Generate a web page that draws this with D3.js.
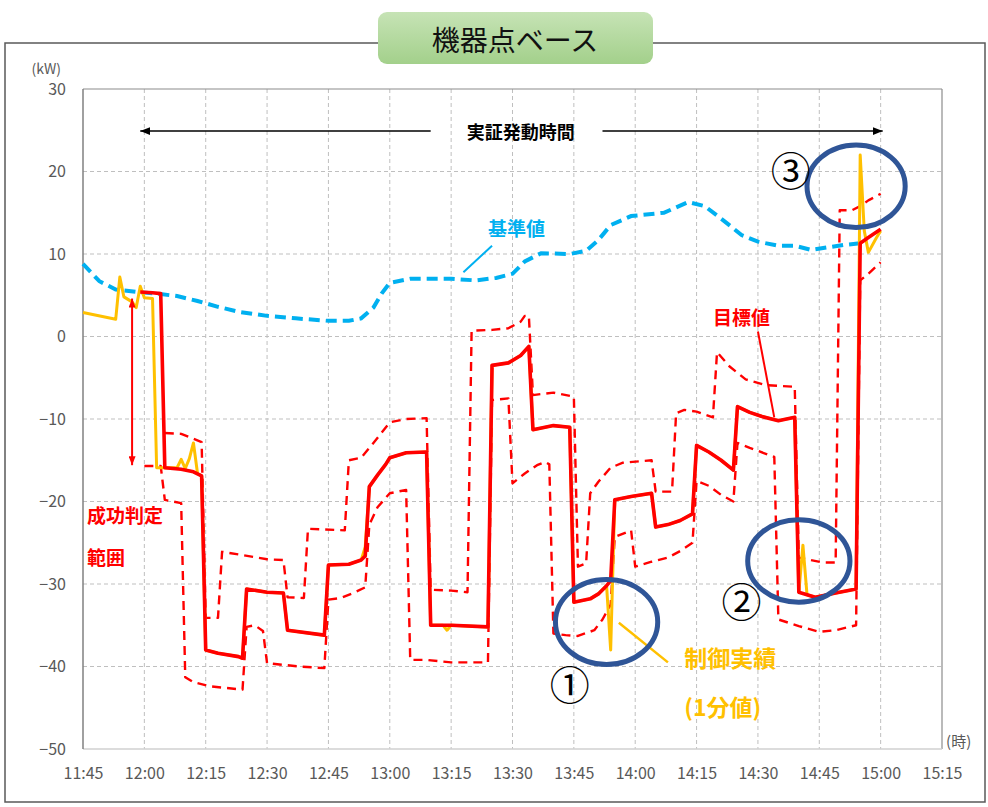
<!DOCTYPE html>
<html>
<head>
<meta charset="utf-8">
<script src="https://cdn.jsdelivr.net/npm/d3@7"></script>
<style>
  body { margin: 0; background: #fff; }
  svg { display: block; font-family: "Noto Sans CJK JP", "Noto Sans", sans-serif; }
</style>
</head>
<body>
<svg id="chart" width="988" height="807"></svg>
<script>
// ---- data -------------------------------------------------------------
const timeTicks = ["11:45","12:00","12:15","12:30","12:45","13:00","13:15",
                   "13:30","13:45","14:00","14:15","14:30","14:45","15:00","15:15"];
const valueTicks = [30, 20, 10, 0, -10, -20, -30, -40, -50];

// 基準値 (baseline, kW)
const baseline = [
  ["11:45", 8.8], ["11:49", 6.7], ["11:53", 5.7], ["11:58", 5.4], ["12:03", 5.2],
  ["12:08", 4.9], ["12:13", 4.3], ["12:18", 3.6], ["12:23", 3.0], ["12:30", 2.5],
  ["12:37", 2.2], ["12:45", 1.9], ["12:50", 1.9], ["12:53", 2.2], ["12:56", 3.5],
  ["12:58", 5.2], ["13:00", 6.5], ["13:05", 7.0], ["13:15", 7.0], ["13:21", 6.8],
  ["13:26", 7.1], ["13:30", 7.6], ["13:33", 9.1], ["13:37", 10.1], ["13:44", 10.0],
  ["13:48", 10.4], ["13:51", 11.7], ["13:54", 13.5], ["13:59", 14.6], ["14:07", 15.0],
  ["14:13", 16.3], ["14:17", 15.8], ["14:22", 13.9], ["14:26", 12.3], ["14:30", 11.5],
  ["14:35", 11.0], ["14:39", 11.0], ["14:43", 10.5], ["14:47", 10.8], ["14:51", 11.1],
  ["14:55", 11.3]
];

// 目標値 (target, kW)
const target = [
  ["11:59", 5.4], ["12:02", 5.3], ["12:04", 5.2], ["12:05", -15.9], ["12:09", -16.1],
  ["12:12", -16.4], ["12:14", -16.9], ["12:15", -38.0], ["12:18", -38.4], ["12:23", -38.8],
  ["12:24", -39.0], ["12:25", -30.6], ["12:30", -31.0], ["12:34", -31.1], ["12:35", -35.6],
  ["12:44", -36.2], ["12:45", -27.7], ["12:50", -27.6], ["12:53", -27.1], ["12:54", -26.6],
  ["12:55", -18.2], ["12:57", -16.8], ["12:59", -15.5], ["13:00", -14.7], ["13:04", -14.1],
  ["13:09", -14.0], ["13:10", -35.0], ["13:15", -35.0], ["13:24", -35.2], ["13:25", -3.5],
  ["13:29", -3.2], ["13:32", -2.3], ["13:34", -1.2], ["13:35", -11.3], ["13:40", -10.8],
  ["13:44", -11.0], ["13:45", -32.2], ["13:49", -31.8], ["13:51", -31.2], ["13:53", -30.2],
  ["13:54", -29.6], ["13:55", -19.8], ["13:59", -19.4], ["14:04", -19.0], ["14:05", -23.1],
  ["14:08", -22.8], ["14:11", -22.3], ["14:14", -21.5], ["14:15", -13.2], ["14:18", -14.0],
  ["14:21", -15.0], ["14:24", -16.2], ["14:25", -8.5], ["14:28", -9.2], ["14:31", -9.7],
  ["14:35", -10.2], ["14:39", -9.8], ["14:40", -31.0], ["14:44", -31.6], ["14:49", -31.1],
  ["14:54", -30.6], ["14:55", 11.3], ["14:57", 12.0], ["15:00", 13.0]
];

// 成功判定範囲 upper limit (kW)
const upperLimit = [
  ["12:05", -11.7], ["12:09", -11.8], ["12:14", -12.8], ["12:15", -34.1], ["12:18", -34.1],
  ["12:19", -26.1], ["12:24", -26.5], ["12:30", -27.0], ["12:34", -27.1], ["12:35", -31.6],
  ["12:39", -31.7], ["12:40", -23.3], ["12:49", -23.5], ["12:50", -15.0], ["12:53", -14.7],
  ["12:56", -12.9], ["13:00", -10.4], ["13:04", -10.0], ["13:09", -9.9], ["13:10", -30.7],
  ["13:15", -30.8], ["13:19", -31.0], ["13:20", 0.7], ["13:25", 0.8], ["13:29", 1.0],
  ["13:32", 1.8], ["13:33", 2.5], ["13:34", 2.5], ["13:35", -7.1], ["13:40", -6.8],
  ["13:45", -7.3], ["13:46", -27.9], ["13:48", -27.5], ["13:49", -19.0], ["13:51", -17.6],
  ["13:54", -15.9], ["13:57", -15.3], ["14:04", -15.0], ["14:05", -18.8], ["14:09", -18.8],
  ["14:10", -9.3], ["14:12", -8.9], ["14:15", -9.1], ["14:19", -9.8], ["14:20", -1.9],
  ["14:23", -3.6], ["14:27", -5.2], ["14:32", -5.9], ["14:39", -6.1], ["14:40", -26.8],
  ["14:46", -27.4], ["14:49", -27.4], ["14:50", 15.3], ["14:53", 15.3], ["14:55", 15.8],
  ["14:57", 16.5], ["15:00", 17.3]
];

// 成功判定範囲 lower limit (kW)
const lowerLimit = [
  ["12:00", -15.7], ["12:04", -15.7], ["12:05", -19.8], ["12:09", -20.2], ["12:10", -41.3],
  ["12:12", -41.9], ["12:16", -42.4], ["12:20", -42.6], ["12:24", -42.8], ["12:25", -35.2],
  ["12:27", -35.0], ["12:29", -35.7], ["12:30", -39.6], ["12:34", -39.8], ["12:38", -40.0],
  ["12:44", -40.2], ["12:45", -31.9], ["12:48", -31.7], ["12:51", -31.1], ["12:54", -30.4],
  ["12:55", -22.8], ["12:57", -20.7], ["13:00", -19.0], ["13:04", -18.6], ["13:05", -39.2],
  ["13:09", -39.2], ["13:15", -39.5], ["13:24", -39.5], ["13:25", -7.7], ["13:29", -7.5],
  ["13:30", -17.8], ["13:33", -16.6], ["13:36", -15.6], ["13:38", -15.2], ["13:39", -15.5],
  ["13:40", -36.0], ["13:43", -36.2], ["13:46", -36.3], ["13:50", -35.6], ["13:52", -34.3],
  ["13:54", -32.5], ["13:55", -24.3], ["13:59", -23.5], ["14:00", -27.9], ["14:04", -27.3],
  ["14:08", -26.8], ["14:11", -26.0], ["14:14", -25.0], ["14:15", -17.5], ["14:18", -18.1],
  ["14:21", -19.2], ["14:24", -20.0], ["14:25", -12.9], ["14:28", -13.5], ["14:34", -14.6],
  ["14:35", -34.3], ["14:40", -35.1], ["14:45", -35.8], ["14:49", -35.6], ["14:54", -35.0],
  ["14:55", 6.8], ["14:57", 7.6], ["15:00", 9.0]
];

// 制御実績 (1分値, kW)
const actual = [
  ["11:45", 2.9], ["11:53", 2.1], ["11:54", 7.2], ["11:55", 4.8], ["11:57", 4.2],
  ["11:58", 3.5], ["11:59", 6.1], ["12:00", 4.7], ["12:02", 4.6], ["12:03", -15.9],
  ["12:08", -15.9], ["12:09", -14.9], ["12:10", -16.0], ["12:11", -14.8], ["12:12", -12.9],
  ["12:13", -16.6], ["12:14", -16.9], ["12:15", -38.0], ["12:18", -38.4], ["12:23", -38.8],
  ["12:24", -39.0], ["12:25", -30.6], ["12:30", -31.0], ["12:34", -31.1], ["12:35", -35.6],
  ["12:44", -36.2], ["12:45", -27.7], ["12:50", -27.6], ["12:53", -27.1], ["12:54", -25.5],
  ["12:55", -18.2], ["12:57", -16.8], ["12:59", -15.5], ["13:00", -14.7], ["13:04", -14.1],
  ["13:09", -14.0], ["13:10", -35.0], ["13:13", -35.0], ["13:14", -35.6], ["13:15", -35.0],
  ["13:24", -35.2], ["13:25", -3.5], ["13:29", -3.2], ["13:32", -2.3], ["13:34", -1.2],
  ["13:35", -11.3], ["13:40", -10.8], ["13:44", -11.0], ["13:45", -32.2], ["13:49", -31.8],
  ["13:51", -31.2], ["13:53", -30.2], ["13:54", -38.0], ["13:55", -19.8], ["13:59", -19.4],
  ["14:04", -19.0], ["14:05", -23.1], ["14:08", -22.8], ["14:11", -22.3], ["14:14", -21.5],
  ["14:15", -13.2], ["14:18", -14.0], ["14:21", -15.0], ["14:24", -16.2], ["14:25", -8.5],
  ["14:28", -9.2], ["14:31", -9.7], ["14:35", -10.2], ["14:39", -9.8], ["14:40", -31.0],
  ["14:41", -25.3], ["14:42", -31.3], ["14:44", -31.6], ["14:49", -31.1], ["14:54", -30.6],
  ["14:55", 22.0], ["14:56", 12.8], ["14:57", 10.2], ["14:59", 12.0], ["15:00", 12.8]
];

// ---- scales -----------------------------------------------------------
const parse = d3.timeParse("%H:%M");
const x = d3.scaleTime().domain([parse("11:45"), parse("15:15")]).range([83, 942]);
const y = d3.scaleLinear().domain([-50, 30]).range([749, 89]);

// position helper: clock time (+ optional minutes) and kW value
const tx = (t, dm = 0) => x(new Date(parse(t).getTime() + dm * 60000));
const ty = v => y(v);

const svg = d3.select("#chart");
const defs = svg.append("defs");

const grad = defs.append("linearGradient").attr("id", "titleFill")
  .attr("x1", 0).attr("y1", 0).attr("x2", 0).attr("y2", 1);
grad.append("stop").attr("offset", "0%").attr("stop-color", "#c6e3b5");
grad.append("stop").attr("offset", "100%").attr("stop-color", "#a3d08b");

function arrowMarker(id, color, w, h) {
  defs.append("marker").attr("id", id)
    .attr("viewBox", `0 0 ${w} ${h}`).attr("refX", w).attr("refY", h / 2)
    .attr("markerWidth", w).attr("markerHeight", h)
    .attr("markerUnits", "userSpaceOnUse").attr("orient", "auto-start-reverse")
    .append("path").attr("d", `M0,0L${w},${h / 2}L0,${h}Z`).attr("fill", color);
}
arrowMarker("arrBlack", "#000", 10, 8);
arrowMarker("arrRed", "#ff0000", 9, 7);

// ---- outer frame + title ---------------------------------------------
svg.append("rect").attr("x", 5).attr("y", 43).attr("width", 980).attr("height", 759)
  .attr("fill", "none").attr("stroke", "#595959").attr("stroke-width", 1.5);

svg.append("rect").attr("x", 378).attr("y", 12).attr("width", 275).attr("height", 52)
  .attr("rx", 9).attr("fill", "url(#titleFill)");
svg.append("text").attr("x", 515).attr("y", 39)
  .attr("text-anchor", "middle").attr("dominant-baseline", "central")
  .attr("font-size", 28).attr("fill", "#111").text("機器点ベース");

// ---- grid -------------------------------------------------------------
const grid = svg.append("g").attr("stroke", "#bfbfbf").attr("stroke-width", 1)
  .attr("stroke-dasharray", "4,3");
grid.selectAll("line.v").data(timeTicks.slice(1, -1)).join("line")
  .attr("x1", d => x(parse(d))).attr("x2", d => x(parse(d)))
  .attr("y1", y(30)).attr("y2", y(-50));
grid.selectAll("line.h").data(valueTicks.slice(1, -1)).join("line")
  .attr("x1", x(parse("11:45"))).attr("x2", x(parse("15:15")))
  .attr("y1", d => y(d)).attr("y2", d => y(d));

// plot border
svg.append("line").attr("x1", x.range()[0]).attr("x2", x.range()[1])
  .attr("y1", y(30)).attr("y2", y(30)).attr("stroke", "#8c8c8c").attr("stroke-width", 1.2);
svg.append("line").attr("x1", x.range()[1]).attr("x2", x.range()[1])
  .attr("y1", y(30)).attr("y2", y(-50)).attr("stroke", "#8c8c8c").attr("stroke-width", 1.2);
svg.append("line").attr("x1", x.range()[0]).attr("x2", x.range()[1])
  .attr("y1", y(-50)).attr("y2", y(-50)).attr("stroke", "#d0d0d0").attr("stroke-width", 1.5);
svg.append("line").attr("x1", x.range()[0]).attr("x2", x.range()[0])
  .attr("y1", y(30)).attr("y2", y(-50)).attr("stroke", "#808080").attr("stroke-width", 1.5);

// ---- axes -------------------------------------------------------------
const yAxis = svg.append("g").attr("transform", `translate(${x.range()[0]},0)`)
  .call(d3.axisLeft(y).tickValues(valueTicks).tickSize(0).tickPadding(17));
yAxis.select(".domain").remove();
yAxis.selectAll("text").attr("font-size", 16).attr("fill", "#595959")
  .attr("font-family", "'Noto Sans CJK JP', sans-serif");

const xAxis = svg.append("g").attr("transform", `translate(0,${y(-50)})`)
  .call(d3.axisBottom(x).tickValues(timeTicks.map(parse))
    .tickFormat(d3.timeFormat("%H:%M")).tickSize(0).tickPadding(19));
xAxis.select(".domain").remove();
xAxis.selectAll("text").attr("font-size", 16).attr("fill", "#595959")
  .attr("font-family", "'Noto Sans CJK JP', sans-serif");

svg.append("text").attr("x", tx("11:36")).attr("y", ty(32.6))
  .attr("text-anchor", "middle").attr("dominant-baseline", "central")
  .attr("font-size", 14).attr("fill", "#595959").text("(kW)");
svg.append("text").attr("x", tx("15:16")).attr("y", ty(-49.0))
  .attr("dominant-baseline", "central")
  .attr("font-size", 15).attr("fill", "#595959").text("(時)");

// ---- series -----------------------------------------------------------
const line = d3.line().x(d => x(parse(d[0]))).y(d => y(d[1]));

svg.append("path").datum(baseline).attr("d", line)
  .attr("fill", "none").attr("stroke", "#00b0f0").attr("stroke-width", 4)
  .attr("stroke-dasharray", "11,6");

[upperLimit, lowerLimit].forEach(s => {
  svg.append("path").datum(s).attr("d", line)
    .attr("fill", "none").attr("stroke", "#ff0000").attr("stroke-width", 2.4)
    .attr("stroke-dasharray", "9,6").attr("stroke-linejoin", "round");
});

svg.append("path").datum(actual).attr("d", line)
  .attr("fill", "none").attr("stroke", "#ffc000").attr("stroke-width", 3)
  .attr("stroke-linejoin", "round");

svg.append("path").datum(target).attr("d", line)
  .attr("fill", "none").attr("stroke", "#ff0000").attr("stroke-width", 3.6)
  .attr("stroke-linejoin", "round");

// ---- annotations ------------------------------------------------------
// 実証発動時間 span arrow
const spanY = ty(24.9);
svg.append("line").attr("x1", tx("13:10")).attr("x2", tx("11:59"))
  .attr("y1", spanY).attr("y2", spanY).attr("stroke", "#000").attr("stroke-width", 1.5)
  .attr("marker-end", "url(#arrBlack)");
svg.append("line").attr("x1", tx("13:52")).attr("x2", tx("15:00", 0.5))
  .attr("y1", spanY).attr("y2", spanY).attr("stroke", "#000").attr("stroke-width", 1.5)
  .attr("marker-end", "url(#arrBlack)");
svg.append("text").attr("x", tx("13:32")).attr("y", spanY)
  .attr("text-anchor", "middle").attr("dominant-baseline", "central")
  .attr("font-size", 18).attr("font-weight", "bold").attr("fill", "#000").text("実証発動時間");

// 成功判定範囲 double arrow
svg.append("line").attr("x1", tx("11:57")).attr("x2", tx("11:57"))
  .attr("y1", ty(4.6)).attr("y2", ty(-15.6)).attr("stroke", "#ff0000").attr("stroke-width", 2)
  .attr("marker-start", "url(#arrRed)").attr("marker-end", "url(#arrRed)");
svg.append("text").attr("x", tx("11:46")).attr("y", ty(-21.6))
  .attr("dominant-baseline", "central").attr("font-size", 19).attr("font-weight", "bold")
  .attr("fill", "#ff0000").text("成功判定");
svg.append("text").attr("x", tx("11:46")).attr("y", ty(-26.7))
  .attr("dominant-baseline", "central").attr("font-size", 19).attr("font-weight", "bold")
  .attr("fill", "#ff0000").text("範囲");

// 基準値 label
svg.append("line").attr("x1", tx("13:18")).attr("y1", ty(7.8))
  .attr("x2", tx("13:25")).attr("y2", ty(11.0))
  .attr("stroke", "#00b0f0").attr("stroke-width", 2);
svg.append("text").attr("x", tx("13:31")).attr("y", ty(13.2))
  .attr("text-anchor", "middle").attr("dominant-baseline", "central")
  .attr("font-size", 19).attr("font-weight", "bold").attr("fill", "#00b0f0").text("基準値");

// 目標値 label
svg.append("line").attr("x1", tx("14:30")).attr("y1", ty(0.6))
  .attr("x2", tx("14:34")).attr("y2", ty(-9.8))
  .attr("stroke", "#ff0000").attr("stroke-width", 2);
svg.append("text").attr("x", tx("14:26")).attr("y", ty(2.4))
  .attr("text-anchor", "middle").attr("dominant-baseline", "central")
  .attr("font-size", 19).attr("font-weight", "bold").attr("fill", "#ff0000").text("目標値");

// 制御実績 label
svg.append("line").attr("x1", tx("13:56")).attr("y1", ty(-34.7))
  .attr("x2", tx("14:08")).attr("y2", ty(-39.5))
  .attr("stroke", "#ffc000").attr("stroke-width", 2.5);
svg.append("text").attr("x", tx("14:12")).attr("y", ty(-38.8))
  .attr("dominant-baseline", "central").attr("font-size", 23).attr("font-weight", "bold")
  .attr("fill", "#ffc000").text("制御実績");
svg.append("text").attr("x", tx("14:12")).attr("y", ty(-44.8))
  .attr("dominant-baseline", "central").attr("font-size", 23).attr("font-weight", "bold")
  .attr("fill", "#ffc000").text("(1分値)");

// highlighted events
const events = [
  { t: "13:53", v: -34.6, rxMin: 12.5, ryKw: 5.15, label: "①", lt: "13:44", lv: -42.0 },
  { t: "14:40", v: -27.2, rxMin: 12.5, ryKw: 5.0,  label: "②", lt: "14:26", lv: -31.9 },
  { t: "14:54", v: 18.2,  rxMin: 12.0, ryKw: 5.0,  label: "③", lt: "14:38", lv: 20.3 }
];
events.forEach(e => {
  svg.append("ellipse")
    .attr("cx", tx(e.t)).attr("cy", ty(e.v))
    .attr("rx", tx(e.t, e.rxMin) - tx(e.t))
    .attr("ry", ty(0) - ty(e.ryKw))
    .attr("fill", "none").attr("stroke", "#2f5597").attr("stroke-width", 5);
  svg.append("text").attr("x", tx(e.lt)).attr("y", ty(e.lv))
    .attr("text-anchor", "middle").attr("dominant-baseline", "central")
    .attr("font-size", 40).attr("fill", "#000").text(e.label);
});
</script>
</body>
</html>
